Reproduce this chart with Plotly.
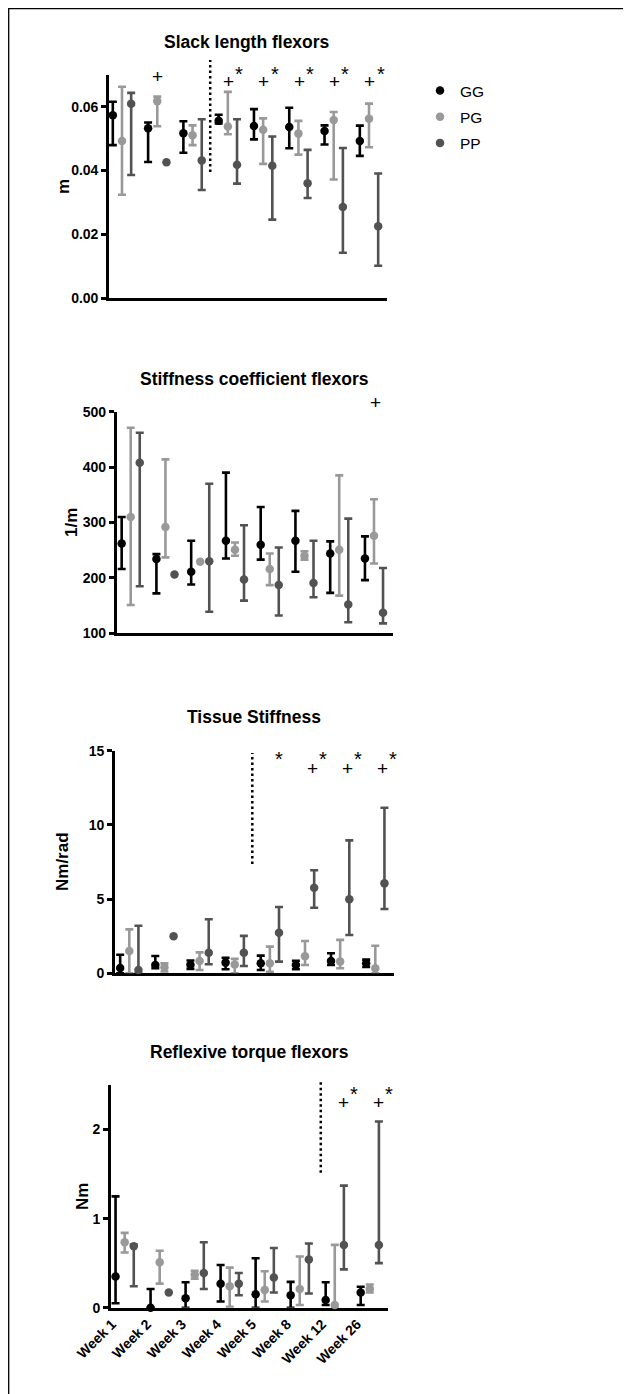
import numpy as np
import plotly.graph_objects as go

W, H = 631, 1394
PAGE_OFFSET = 8  # the html body margin shifts the figure by 8px

weeks = ["Week 1", "Week 2", "Week 3", "Week 4", "Week 5", "Week 8", "Week 12", "Week 26"]
groups = ["GG", "PG", "PP"]

# ---- Slack length flexors (m): mean, lower, upper ----
slack_gg_mean = [0.0574, 0.0533, 0.0517, 0.0556, 0.0540, 0.0537, 0.0524, 0.0493]
slack_gg_low = [0.0480, 0.0427, 0.0456, 0.0548, 0.0498, 0.0470, 0.0482, 0.0446]
slack_gg_high = [0.0616, 0.0551, 0.0555, 0.0575, 0.0593, 0.0597, 0.0542, 0.0541]
slack_pg_mean = [0.0493, 0.0618, 0.0511, 0.0538, 0.0528, 0.0516, 0.0559, 0.0563]
slack_pg_low = [0.0324, 0.0539, 0.0480, 0.0514, 0.0421, 0.0450, 0.0372, 0.0473]
slack_pg_high = [0.0663, 0.0632, 0.0542, 0.0647, 0.0564, 0.0556, 0.0584, 0.0610]
slack_pp_mean = [0.0610, 0.0426, 0.0432, 0.0418, 0.0415, 0.0360, 0.0286, 0.0225]
slack_pp_low = [0.0386, None, 0.0339, 0.0359, 0.0246, 0.0314, 0.0142, 0.0101]
slack_pp_high = [0.0644, None, 0.0561, 0.0561, 0.0507, 0.0465, 0.0471, 0.0391]

# ---- Stiffness coefficient flexors (1/m) ----
stiff_gg_mean = [262, 234, 211, 267, 260, 267, 244, 235]
stiff_gg_low = [216, 172, 188, 235, 233, 211, 173, 196]
stiff_gg_high = [310, 243, 267, 390, 328, 321, 266, 275]
stiff_pg_mean = [310, 292, 229, 251, 216, 240, 251, 276]
stiff_pg_low = [151, 237, None, 240, 187, 233, 168, 226]
stiff_pg_high = [471, 414, None, 264, 244, 248, 385, 342]
stiff_pp_mean = [408, 206, 230, 197, 187, 191, 152, 137]
stiff_pp_low = [185, None, 139, 159, 132, 165, 120, 118]
stiff_pp_high = [462, None, 370, 295, 255, 267, 307, 218]

# ---- Tissue Stiffness (Nm/rad) ----
tissue_gg_mean = [0.35, 0.56, 0.58, 0.72, 0.67, 0.56, 0.83, 0.67]
tissue_gg_low = [0.00, 0.34, 0.30, 0.27, 0.22, 0.27, 0.56, 0.42]
tissue_gg_high = [1.25, 1.17, 0.86, 1.05, 1.19, 0.85, 1.35, 0.92]
tissue_pg_mean = [1.50, 0.40, 0.83, 0.60, 0.67, 1.15, 0.79, 0.34]
tissue_pg_low = [0.00, 0.12, 0.22, 0.00, 0.10, 0.56, 0.34, 0.00]
tissue_pg_high = [2.96, 0.67, 1.41, 0.97, 1.80, 2.18, 2.25, 1.86]
tissue_pp_mean = [0.22, 2.49, 1.39, 1.39, 2.74, 5.77, 4.99, 6.06]
tissue_pp_low = [0.00, None, 0.61, 0.49, 0.79, 4.42, 2.58, 4.33]
tissue_pp_high = [3.20, None, 3.64, 2.52, 4.47, 6.94, 8.96, 11.16]

# ---- Reflexive torque flexors (Nm) ----
torque_gg_mean = [0.35, 0.00, 0.105, 0.27, 0.15, 0.14, 0.086, 0.17]
torque_gg_low = [0.05, 0.00, 0.00, 0.07, 0.00, 0.00, 0.03, 0.03]
torque_gg_high = [1.25, 0.21, 0.285, 0.48, 0.555, 0.29, 0.285, 0.235]
torque_pg_mean = [0.735, 0.51, 0.37, 0.24, 0.20, 0.21, 0.03, 0.214]
torque_pg_low = [0.62, 0.27, 0.325, 0.01, 0.07, 0.03, 0.00, 0.17]
torque_pg_high = [0.84, 0.64, 0.415, 0.45, 0.41, 0.575, 0.705, 0.26]
torque_pp_mean = [0.69, 0.17, 0.39, 0.27, 0.34, 0.54, 0.705, 0.705]
torque_pp_low = [0.24, None, 0.21, 0.14, 0.17, 0.16, 0.43, 0.50]
torque_pp_high = [0.71, None, 0.735, 0.39, 0.67, 0.72, 1.37, 2.09]

titles = ["Slack length flexors", "Stiffness coefficient flexors", "Tissue Stiffness", "Reflexive torque flexors"]
ytitles = ["m", "1/m", "Nm/rad", "Nm"]
yticks = [[0.00, 0.02, 0.04, 0.06], [100, 200, 300, 400, 500], [0, 5, 10, 15], [0, 1, 2]]
ytick_text = [["0.00", "0.02", "0.04", "0.06"], ["100", "200", "300", "400", "500"], ["0", "5", "10", "15"], ["0", "1", "2"]]
yranges = [[0, 0.07], [100, 500], [0, 15], [0, 2.5]]

# significance marks: weeks with "+" and weeks with "*"
plus_weeks = [["Week 2", "Week 4", "Week 5", "Week 8", "Week 12", "Week 26"], ["Week 26"],
              ["Week 8", "Week 12", "Week 26"], ["Week 12", "Week 26"]]
star_weeks = [["Week 4", "Week 5", "Week 8", "Week 12", "Week 26"], [],
              ["Week 5", "Week 8", "Week 12", "Week 26"], ["Week 12", "Week 26"]]
# dotted separator positions (after this category)
sep_after = ["Week 3", None, "Week 4", "Week 8"]

data = [
    [(slack_gg_mean, slack_gg_low, slack_gg_high), (slack_pg_mean, slack_pg_low, slack_pg_high), (slack_pp_mean, slack_pp_low, slack_pp_high)],
    [(stiff_gg_mean, stiff_gg_low, stiff_gg_high), (stiff_pg_mean, stiff_pg_low, stiff_pg_high), (stiff_pp_mean, stiff_pp_low, stiff_pp_high)],
    [(tissue_gg_mean, tissue_gg_low, tissue_gg_high), (tissue_pg_mean, tissue_pg_low, tissue_pg_high), (tissue_pp_mean, tissue_pp_low, tissue_pp_high)],
    [(torque_gg_mean, torque_gg_low, torque_gg_high), (torque_pg_mean, torque_pg_low, torque_pg_high), (torque_pp_mean, torque_pp_low, torque_pp_high)],
]

# ---------------- layout geometry (pixels, in page coordinates) ----------------
colors = ["#000000", "#999999", "#525252"]
offsets = [-0.26, 0.0, 0.26]
xdom_px = [(109, 387), (116.7, 393), (115, 394), (111, 388)]
xranges = [[-0.368, 7.51], [-0.403, 7.547], [-0.407, 7.532], [-0.39, 7.52]]
ydom_px = [(75, 298), (411.7, 633.3), (750.7, 973.3), (1085, 1307.7)]
title_px = [(247, 42), (254, 379), (254, 717), (249, 1052)]
ytitle_px = [(63, 187), (72, 523), (62, 862), (82, 1197)]
sep_px = [(60, 172), None, (753, 864), (1081.7, 1172.7)]
sep_shift = [0.5, 0.5, 0.5, 0.6]
plus_px = [81, 402, 768, 1102.7]
plus_alone_px = [76, 402, 768, 1102.7]
star_px = [74, 0, 759, 1094]
plus_off = [0.02, 0.03, 0.2, 0.25]
star_off = [0.33, 0.0, 0.5, 0.56]
star_alone_off = [0.33, 0.0, 0.26, 0.56]


def py(p):
    return 1 - (p - PAGE_OFFSET) / H


def px(p):
    return (p - PAGE_OFFSET) / W


def axis_to_paper(k, v):
    """x value on panel k's axis -> paper fraction (for labels beyond the axis range)."""
    d0, d1 = px(xdom_px[k][0]), px(xdom_px[k][1])
    r0, r1 = xranges[k]
    return d0 + (v - r0) / (r1 - r0) * (d1 - d0)


fig = go.Figure()
xi = np.arange(len(weeks))

for k in range(4):
    xa = "x" if k == 0 else f"x{k+1}"
    ya = "y" if k == 0 else f"y{k+1}"
    for g in range(3):
        mean, low, high = data[k][g]
        m = np.array(mean, dtype=float)
        lo = np.array([np.nan if v is None else v for v in low], dtype=float)
        hi = np.array([np.nan if v is None else v for v in high], dtype=float)
        fig.add_trace(go.Scatter(
            x=xi + offsets[g], y=m, mode="markers", xaxis=xa, yaxis=ya,
            name=groups[g], legendgroup=groups[g], showlegend=(k == 0),
            marker=dict(color=colors[g], size=8.5, line=dict(width=0)),
            error_y=dict(type="data", symmetric=False, array=hi - m, arrayminus=m - lo,
                         color=colors[g], thickness=2.6, width=4),
            cliponaxis=False,
        ))

layout = dict(
    width=W, height=H, margin=dict(l=0, r=0, t=0, b=0, pad=0, autoexpand=False),
    paper_bgcolor="white", plot_bgcolor="white",
    font=dict(family="Liberation Sans, Arial, sans-serif", color="black"),
    showlegend=True,
    legend=dict(x=px(420), y=py(74), xanchor="left", yanchor="top",
                font=dict(size=15.5, family="Liberation Sans, Arial, sans-serif"),
                traceorder="grouped", tracegroupgap=3, bgcolor="rgba(0,0,0,0)"),
)

annotations = []
shapes = []
for k in range(4):
    sfx = "" if k == 0 else str(k + 1)
    layout["xaxis" + sfx] = dict(
        domain=[px(xdom_px[k][0]), px(xdom_px[k][1])], range=xranges[k],
        anchor="y" + sfx, showline=True, linewidth=2.6, linecolor="black",
        showgrid=False, zeroline=False, ticks="",
        showticklabels=(k == 3),
        tickvals=list(xi - 0.36) if k == 3 else None,
        ticktext=weeks if k == 3 else None,
        tickangle=-45, automargin=False,
        tickfont=dict(size=14, weight="bold", color="black"),
        layer="below traces",
    )
    layout["yaxis" + sfx] = dict(
        domain=[py(ydom_px[k][1]), py(ydom_px[k][0])], range=yranges[k],
        anchor="x" + sfx, showline=True, linewidth=2.6, linecolor="black",
        showgrid=False, zeroline=False, ticks="outside", ticklen=5, tickwidth=2.6,
        tickcolor="black", tickvals=yticks[k], ticktext=ytick_text[k],
        tickfont=dict(size=14, weight="bold", color="black"), automargin=False,
        layer="below traces",
    )
    # panel title
    annotations.append(dict(text=titles[k], xref="paper", yref="paper",
                            x=px(title_px[k][0]), y=py(title_px[k][1]),
                            xanchor="center", yanchor="middle", showarrow=False,
                            font=dict(size=17.5, weight="bold", color="black")))
    # y title
    annotations.append(dict(text=ytitles[k], xref="paper", yref="paper",
                            x=px(ytitle_px[k][0]), y=py(ytitle_px[k][1]),
                            xanchor="center", yanchor="middle", showarrow=False, textangle=-90,
                            font=dict(size=17, weight="bold", color="black")))
    xa = "x" + sfx
    # significance marks
    for wk in plus_weeks[k]:
        i = weeks.index(wk)
        alone = wk not in star_weeks[k]
        annotations.append(dict(text="+", xref="paper", yref="paper",
                                x=axis_to_paper(k, i + plus_off[k]),
                                y=py(plus_alone_px[k] if alone else plus_px[k]),
                                xanchor="center", yanchor="middle", showarrow=False,
                                font=dict(size=19, color="black")))
    for wk in star_weeks[k]:
        i = weeks.index(wk)
        alone = wk not in plus_weeks[k]
        annotations.append(dict(text="*", xref="paper", yref="paper",
                                x=axis_to_paper(k, i + (star_alone_off[k] if alone else star_off[k])),
                                y=py(star_px[k]),
                                xanchor="center", yanchor="middle", showarrow=False,
                                font=dict(size=20, color="black")))
    # dotted separator
    if sep_after[k] is not None:
        i = weeks.index(sep_after[k]) + sep_shift[k]
        shapes.append(dict(type="line", xref=xa, yref="paper", x0=i, x1=i,
                           y0=py(sep_px[k][1]), y1=py(sep_px[k][0]),
                           line=dict(color="black", width=2.5, dash="2.5px,3px")))

# outer frame
shapes.append(dict(type="rect", xref="paper", yref="paper", x0=px(8.7), x1=1.2,
                   y0=-0.2, y1=py(8.7), line=dict(color="black", width=1.3)))

layout["annotations"] = annotations
layout["shapes"] = shapes
fig.update_layout(**layout)
fig.write_html("out.html")
